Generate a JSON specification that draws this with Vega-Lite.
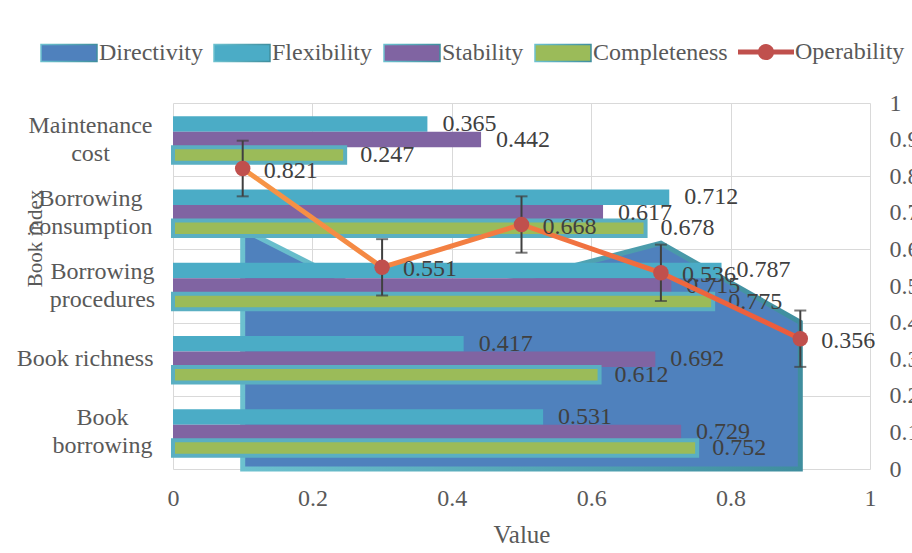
{
  "$schema": "https://vega.github.io/schema/vega-lite/v6.json",
  "width": 697,
  "height": 366,
  "autosize": {"type": "none"},
  "padding": {"left": 173, "top": 103, "right": 42, "bottom": 84},
  "background": "white",
  "config": {
    "view": {"stroke": null},
    "font": "Liberation Serif",
    "axis": {
      "labelFont": "Liberation Serif",
      "labelFontSize": 24,
      "labelColor": "#595959",
      "titleFont": "Liberation Serif",
      "titleColor": "#595959",
      "titleFontWeight": "normal",
      "gridColor": "#D9D9D9",
      "gridWidth": 1,
      "ticks": false,
      "domain": false
    },
    "legend": {
      "labelFont": "Liberation Serif",
      "labelFontSize": 24,
      "labelColor": "#595959"
    }
  },
  "datasets": {
    "bars": [
      {"cat": "Maintenance cost", "series": "Flexibility", "x": 0.365},
      {"cat": "Maintenance cost", "series": "Stability", "x": 0.442},
      {"cat": "Maintenance cost", "series": "Completeness", "x": 0.247},
      {"cat": "Borrowing consumption", "series": "Flexibility", "x": 0.712},
      {"cat": "Borrowing consumption", "series": "Stability", "x": 0.617},
      {"cat": "Borrowing consumption", "series": "Completeness", "x": 0.678},
      {"cat": "Borrowing procedures", "series": "Flexibility", "x": 0.787},
      {"cat": "Borrowing procedures", "series": "Stability", "x": 0.715},
      {"cat": "Borrowing procedures", "series": "Completeness", "x": 0.775},
      {"cat": "Book richness", "series": "Flexibility", "x": 0.417},
      {"cat": "Book richness", "series": "Stability", "x": 0.692},
      {"cat": "Book richness", "series": "Completeness", "x": 0.612},
      {"cat": "Book borrowing", "series": "Flexibility", "x": 0.531},
      {"cat": "Book borrowing", "series": "Stability", "x": 0.729},
      {"cat": "Book borrowing", "series": "Completeness", "x": 0.752}
    ],
    "sec": [
      {"x": 0.1, "dir": 0.655, "op": 0.821, "lo": 0.745, "hi": 0.897},
      {"x": 0.3, "dir": 0.462, "op": 0.551, "lo": 0.474, "hi": 0.628},
      {"x": 0.5, "dir": 0.518, "op": 0.668, "lo": 0.591, "hi": 0.745},
      {"x": 0.7, "dir": 0.617, "op": 0.536, "lo": 0.459, "hi": 0.613},
      {"x": 0.9, "dir": 0.401, "op": 0.356, "lo": 0.279, "hi": 0.433}
    ]
  },
  "encoding": {
    "x": {
      "field": "x",
      "type": "quantitative",
      "scale": {"domain": [0, 1], "nice": false, "zero": true},
      "axis": {
        "values": [0, 0.2, 0.4, 0.6, 0.8, 1],
        "format": ".1~f",
        "grid": true,
        "labelFlush": false,
        "labelPadding": 17,
        "title": "Value",
        "titleFontSize": 25,
        "titlePadding": 12
      }
    }
  },
  "layer": [
    {
      "data": {"name": "sec"},
      "mark": {
        "type": "area",
        "strokeWidth": 5,
        "stroke": {
          "gradient": "linear",
          "x1": 0, "y1": 0, "x2": 1, "y2": 0,
          "stops": [
            {"offset": 0, "color": "#6CC1CF"},
            {"offset": 1, "color": "#3F8E9E"}
          ]
        },
        "opacity": 1
      },
      "encoding": {
        "y": {
          "field": "dir",
          "type": "quantitative",
          "scale": {"domain": [0, 1], "nice": false},
          "axis": {
            "orient": "right",
            "values": [0, 0.1, 0.2, 0.3, 0.4, 0.5, 0.6, 0.7, 0.8, 0.9, 1],
            "format": ".1~f",
            "grid": false,
            "labelPadding": 19,
            "labelAlign": "left",
            "title": null
          }
        },
        "color": {
          "datum": "Directivity",
          "type": "nominal",
          "scale": {
            "domain": ["Directivity", "Flexibility", "Stability", "Completeness"],
            "range": ["#4F81BD", "#4BACC6", "#8064A2", "#9BBB59"]
          },
          "legend": {
            "orient": "none",
            "direction": "horizontal",
            "legendX": -133,
            "legendY": -79,
            "title": null,
            "symbolSize": 3136,
            "symbolType": "M-1,-0.3H1V0.3H-1Z",
            "labelOffset": 1,
            "columnPadding": 8,
            "encode": {
              "symbols": {
                "update": {
                  "fill": {"signal": "{'Directivity':'#4F81BD','Flexibility':'#4BACC6','Stability':'#8064A2','Completeness':'#9BBB59'}[datum.value]"},
                  "stroke": {"signal": "(datum.value === 'Directivity' || datum.value === 'Completeness') ? '#5AAFC2' : 'transparent'"},
                  "strokeWidth": {"signal": "(datum.value === 'Directivity' || datum.value === 'Completeness') ? 6 : 0"},
                  "opacity": {"value": 1}
                }
              }
            }
          }
        }
      }
    },
    {
      "data": {"name": "bars"},
      "encoding": {
        "yOffset": {
          "field": "series",
          "type": "nominal",
          "sort": ["Flexibility", "Stability", "Completeness"],
          "scale": {"paddingInner": 0, "paddingOuter": 0.86}
        }
      },
      "layer": [
        {
          "mark": {"type": "bar", "opacity": 1},
          "encoding": {
            "y": {
              "field": "cat",
              "type": "nominal",
              "sort": ["Maintenance cost", "Borrowing consumption", "Borrowing procedures", "Book richness", "Book borrowing"],
              "scale": {"paddingInner": 0, "paddingOuter": 0},
              "axis": {
                "orient": "left",
                "grid": true,
                "tickBand": "extent",
                "labelPadding": 83,
                "labelOffset": -14,
                "labelAlign": "center",
                "labelBaseline": "middle",
                "labelLineHeight": 28,
                "labelExpr": "datum.label === 'Maintenance cost' ? ['Maintenance', 'cost'] : datum.label === 'Borrowing consumption' ? ['Borrowing', 'consumption'] : ''",
                "labelLimit": 300,
                "title": "Book index",
                "titleFontSize": 21,
                "titleAngle": -90,
                "titleX": -138,
                "titleY": 135,
                "titleAlign": "center",
                "titleBaseline": "middle"
              }
            },
            "color": {"field": "series", "type": "nominal", "title": null},
            "stroke": {
              "condition": {"test": "datum.series === 'Completeness'", "value": "#5AAFC2"},
              "value": "transparent"
            },
            "strokeWidth": {
              "condition": {"test": "datum.series === 'Completeness'", "value": 4},
              "value": 0
            }
          }
        },
        {
          "transform": [{"filter": "datum.series !== 'Completeness'"}],
          "mark": {"type": "text", "align": "left", "baseline": "middle", "dx": 15, "fontSize": 24, "font": "Liberation Serif", "color": "#404040"},
          "encoding": {
            "y": {
              "field": "cat",
              "type": "nominal",
              "sort": ["Maintenance cost", "Borrowing consumption", "Borrowing procedures", "Book richness", "Book borrowing"],
              "scale": {"paddingInner": 0, "paddingOuter": 0},
              "axis": {
                "orient": "left",
                "grid": false,
                "labelPadding": 71,
                "labelOffset": -14,
                "labelAlign": "center",
                "labelBaseline": "middle",
                "labelLineHeight": 28,
                "labelExpr": "datum.label === 'Borrowing procedures' ? ['Borrowing', 'procedures'] : datum.label === 'Book borrowing' ? ['Book', 'borrowing'] : ''",
                "labelLimit": 300,
                "title": null
              }
            },
            "text": {"field": "x", "type": "quantitative", "format": ".3f"}
          }
        },
        {
          "transform": [{"filter": "datum.series === 'Completeness'"}],
          "mark": {"type": "text", "align": "left", "baseline": "middle", "dx": 15, "fontSize": 24, "font": "Liberation Serif", "color": "#404040"},
          "encoding": {
            "y": {
              "field": "cat",
              "type": "nominal",
              "sort": ["Maintenance cost", "Borrowing consumption", "Borrowing procedures", "Book richness", "Book borrowing"],
              "scale": {"paddingInner": 0, "paddingOuter": 0},
              "axis": {
                "orient": "left",
                "grid": false,
                "labelPadding": 20,
                "labelOffset": 0,
                "labelAlign": "right",
                "labelBaseline": "middle",
                "labelExpr": "datum.label === 'Book richness' ? datum.label : ''",
                "labelLimit": 300,
                "title": null
              }
            },
            "text": {"field": "x", "type": "quantitative", "format": ".3f"}
          }
        }
      ],
      "resolve": {"axis": {"y": "independent"}}
    },
    {
      "data": {"name": "sec"},
      "encoding": {
        "y": {
          "field": "op",
          "type": "quantitative",
          "scale": {"domain": [0, 1], "nice": false},
          "axis": null
        }
      },
      "layer": [
        {
          "mark": {
            "type": "line",
            "strokeWidth": 5,
            "color": {
              "gradient": "linear",
              "x1": 0, "y1": 0, "x2": 1, "y2": 0,
              "stops": [
                {"offset": 0, "color": "#F79646"},
                {"offset": 1, "color": "#EC5A3C"}
              ]
            }
          }
        },
        {
          "mark": {"type": "rule", "color": "#404040", "strokeWidth": 2},
          "encoding": {
            "y": {"field": "lo", "type": "quantitative", "axis": null},
            "y2": {"field": "hi"}
          }
        },
        {
          "mark": {"type": "tick", "orient": "horizontal", "color": "#404040", "size": 12, "thickness": 2},
          "encoding": {
            "y": {"field": "lo", "type": "quantitative", "axis": null}
          }
        },
        {
          "mark": {"type": "tick", "orient": "horizontal", "color": "#404040", "size": 12, "thickness": 2},
          "encoding": {
            "y": {"field": "hi", "type": "quantitative", "axis": null}
          }
        },
        {
          "mark": {"type": "point", "filled": true, "size": 240, "color": "#C0504D"},
          "encoding": {
            "opacity": {
              "datum": "Operability",
              "type": "ordinal",
              "scale": {"domain": ["Operability"], "range": [1]},
              "legend": {
                "orient": "none",
                "direction": "horizontal",
                "legendX": 565,
                "legendY": -79,
                "title": null,
                "symbolSize": 3136,
                "symbolType": "M-1,-0.09H1V0.09H-1Z M0.29,0 A0.29,0.29 0 1,1 -0.29,0 A0.29,0.29 0 1,1 0.29,0 Z",
                "symbolFillColor": "#D9553F",
                "symbolStrokeWidth": 0,
                "labelOffset": 1
              }
            }
          }
        },
        {
          "mark": {"type": "text", "align": "left", "baseline": "middle", "dx": 21, "dy": 2, "fontSize": 24, "font": "Liberation Serif", "color": "#404040"},
          "encoding": {
            "text": {"field": "op", "type": "quantitative", "format": ".3f"}
          }
        }
      ]
    }
  ],
  "resolve": {"scale": {"y": "independent"}, "axis": {"y": "independent"}}
}
